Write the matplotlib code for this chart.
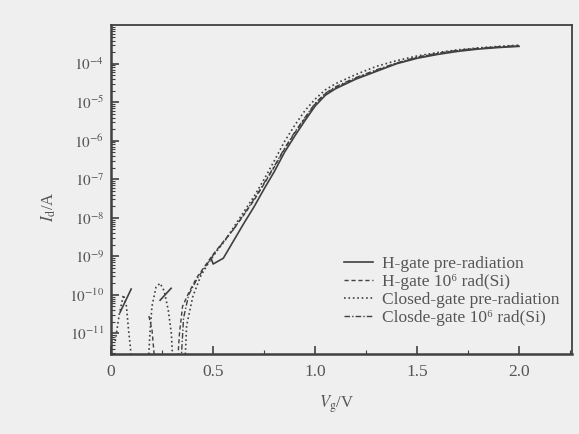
import numpy as np
import matplotlib
matplotlib.use("Agg")
from matplotlib import pyplot as plt
from matplotlib.ticker import FixedLocator, NullFormatter, MultipleLocator

plt.rcParams['font.family'] = ['Liberation Serif', 'DejaVu Serif']
plt.rcParams['mathtext.fontset'] = 'stix'

nan = np.nan

# H-gate pre-radiation (log10 of Id), NaN breaks the noisy low-Vg bits
vg_h_pre = [0.044, 0.098, nan, 0.240, 0.294, nan, 0.49, 0.50, 0.55, 0.60, 0.65, 0.70, 0.75,
            0.80, 0.85, 0.90, 0.95, 1.00, 1.05, 1.10, 1.20, 1.30, 1.40, 1.50, 1.60, 1.70,
            1.80, 1.90, 2.00]
log_h_pre = [-10.45, -9.85, nan, -10.14, -9.83, nan, -9.05, -9.2, -9.05, -8.6, -8.15, -7.72, -7.25,
             -6.8, -6.3, -5.88, -5.48, -5.1, -4.82, -4.65, -4.4, -4.2, -4.0, -3.86, -3.76, -3.68,
             -3.62, -3.58, -3.55]

# H-gate 1e6 rad(Si)
vg_h_rad = [0.185, 0.20, 0.215, nan, 0.325, 0.335, 0.35, 0.38, 0.42, 0.46, 0.50, 0.55, 0.60,
            0.65, 0.70, 0.75, 0.80, 0.85, 0.90, 0.95, 1.00, 1.05, 1.10, 1.20, 1.30, 1.40,
            1.50, 1.60, 1.70, 1.80, 1.90, 2.00]
log_h_rad = [-10.55, -10.9, -11.8, nan, -11.8, -11.0, -10.3, -9.95, -9.55, -9.25, -8.95, -8.62, -8.3,
             -7.93, -7.55, -7.12, -6.68, -6.22, -5.8, -5.42, -5.05, -4.78, -4.62, -4.38, -4.18, -3.99,
             -3.84, -3.74, -3.66, -3.61, -3.57, -3.54]

# Closed-gate pre-radiation
vg_c_pre = [0.02, 0.04, 0.06, 0.075, 0.085, 0.095, 0.10, nan,
            0.18, 0.19, 0.20, 0.22, 0.24, 0.26, 0.28, 0.295, 0.305, nan,
            0.36, 0.37, 0.40, 0.44, 0.48, 0.52, 0.56, 0.60, 0.65, 0.70, 0.75, 0.80, 0.85,
            0.90, 0.95, 1.00, 1.05, 1.10, 1.20, 1.30, 1.40, 1.50, 1.60, 1.70, 1.80, 1.90, 2.00]
log_c_pre = [-11.2, -10.5, -10.0, -10.3, -10.9, -11.4, -12.0, nan,
             -12.0, -11.0, -10.3, -9.8, -9.7, -9.9, -10.4, -11.0, -12.0, nan,
             -12.0, -10.8, -10.05, -9.5, -9.15, -8.85, -8.58, -8.25, -7.85, -7.45, -7.0, -6.52, -6.02,
             -5.6, -5.22, -4.92, -4.68, -4.52, -4.28, -4.07, -3.92, -3.8, -3.71, -3.64, -3.59, -3.55, -3.52]

# Closed-gate 1e6 rad(Si)
vg_c_rad = [0.34, 0.355, 0.38, 0.42, 0.46, 0.50, 0.55, 0.60, 0.65, 0.70, 0.75, 0.80, 0.85,
            0.90, 0.95, 1.00, 1.05, 1.10, 1.20, 1.30, 1.40, 1.50, 1.60, 1.70, 1.80, 1.90, 2.00]
log_c_rad = [-12.0, -10.6, -10.0, -9.6, -9.28, -8.97, -8.63, -8.3, -7.92, -7.52, -7.1, -6.66, -6.2,
             -5.78, -5.4, -5.03, -4.77, -4.6, -4.36, -4.16, -3.98, -3.83, -3.73, -3.65, -3.6, -3.56, -3.53]

labels = ["H-gate pre-radiation", "H-gate 10\u2076 rad(Si)",
          "Closed-gate pre-radiation", "Closde-gate 10\u2076 rad(Si)"]

ink = '#404040'
txt = '#555555'
bg = '#efefef'

fig = plt.figure(figsize=(5.79, 4.34), dpi=100, facecolor=bg)
ax = fig.add_axes([0.192, 0.184, 0.796, 0.758], facecolor=bg)

ax.semilogy(vg_h_pre, 10.0 ** np.array(log_h_pre), '-', color=ink, lw=1.2, label=labels[0])
ax.semilogy(vg_h_rad, 10.0 ** np.array(log_h_rad), '--', color=ink, lw=1.0, dashes=(3, 2), label=labels[1])
ax.semilogy(vg_c_pre, 10.0 ** np.array(log_c_pre), ':', color=ink, lw=1.2, label=labels[2])
ax.semilogy(vg_c_rad, 10.0 ** np.array(log_c_rad), '-.', color=ink, lw=1.0, dashes=(4, 1.5, 1, 1.5), label=labels[3])

ax.set_xlim(0, 2.26)
ax.set_ylim(10 ** -11.54, 1e-3)

ax.xaxis.set_major_locator(FixedLocator([0, 0.5, 1.0, 1.5, 2.0]))
ax.set_xticklabels(["0", "0.5", "1.0", "1.5", "2.0"])
ax.xaxis.set_minor_locator(MultipleLocator(0.25))

ydec = [1e-11, 1e-10, 1e-9, 1e-8, 1e-7, 1e-6, 1e-5, 1e-4]
ax.yaxis.set_major_locator(FixedLocator(ydec))
ax.set_yticklabels([r"$10^{-11}$", r"$10^{-10}$", r"$10^{-9}$", r"$10^{-8}$",
                    r"$10^{-7}$", r"$10^{-6}$", r"$10^{-5}$", r"$10^{-4}$"])
minors = [m * 10.0 ** e for e in range(-12, -3) for m in range(2, 10)]
ax.yaxis.set_minor_locator(FixedLocator(minors))
ax.yaxis.set_minor_formatter(NullFormatter())

ax.tick_params(which='both', direction='in', top=False, right=False, colors=ink,
               labelcolor=txt)
ax.tick_params(which='major', length=6, width=1.2)
ax.tick_params(which='minor', length=3, width=0.8)
ax.tick_params(axis='x', pad=7, labelsize=12.5)
ax.tick_params(axis='y', pad=5, labelsize=11)

for side in ['left', 'bottom']:
    ax.spines[side].set_linewidth(1.8)
for side in ['top', 'right']:
    ax.spines[side].set_linewidth(1.3)
for s in ax.spines.values():
    s.set_color(ink)

ax.set_xlabel(r"$V_{\rm g}$/V", fontsize=12, color=txt)
ax.xaxis.set_label_coords(0.49, -0.12)
ax.set_ylabel(r"$I_{\rm d}$/A", fontsize=12, color=txt)
ax.yaxis.set_label_coords(-0.115, 0.45)

leg = ax.legend(loc='lower right', bbox_to_anchor=(0.995, 0.055), frameon=False,
                fontsize=12.5, handlelength=1.7, handletextpad=0.5, labelspacing=0.09,
                borderaxespad=0.2)
for t in leg.get_texts():
    t.set_color(txt)

fig.savefig("out.png", dpi=100, facecolor=bg)
